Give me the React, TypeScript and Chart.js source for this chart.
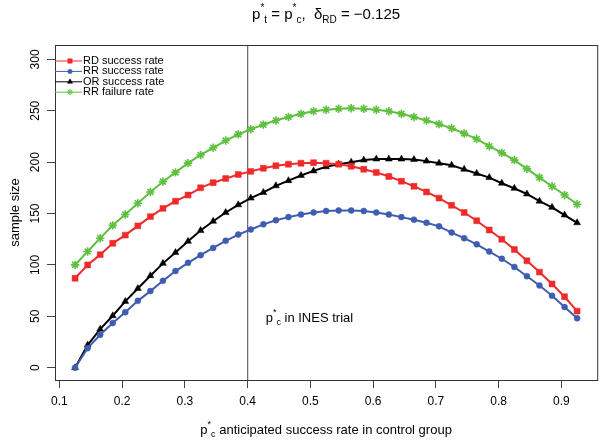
import React, { useEffect, useRef } from "react";
import { Chart, registerables } from "chart.js";
import { drawPoint } from "chart.js/helpers";

Chart.register(...registerables);

const xValues = [
  0.125, 0.145, 0.165, 0.185, 0.205, 0.225, 0.245, 0.265, 0.285, 0.305, 0.325,
  0.345, 0.365, 0.385, 0.405, 0.425, 0.445, 0.465, 0.485, 0.505, 0.525, 0.545,
  0.565, 0.585, 0.605, 0.625, 0.645, 0.665, 0.685, 0.705, 0.725, 0.745, 0.765,
  0.785, 0.805, 0.825, 0.845, 0.865, 0.885, 0.905, 0.925,
];
const rdSuccess = [
  87, 100, 110, 121, 129, 138, 147, 155, 162, 168, 175, 180, 184, 188, 191,
  194, 196.5, 198, 199, 199.5, 199, 198, 196, 193, 190, 186, 181.5, 176.5, 171, 165,
  158, 151, 143, 134, 125, 115, 104, 93, 81.5, 69, 55,
];
const rrSuccess = [
  0, 19, 32, 43.5, 54, 65, 74.5, 84.5, 94, 102, 109.5, 116.5, 123.5, 129.5, 134.5,
  139.5, 143.5, 146.5, 149, 151, 152.5, 153, 153, 152.5, 151, 149, 146.5, 144, 141, 137.5,
  131.5, 126, 120, 113, 106, 98, 89, 80, 70, 59, 48,
];
const orSuccess = [
  0, 22, 37.5, 50.5, 64.5, 77, 89.5, 101.5, 112, 123, 133.5, 142.5, 151, 158.5, 165,
  170.5, 177, 182, 187, 191.5, 195.5, 198, 200, 202, 203, 203, 203, 202.5, 201, 199,
  197, 193, 189, 185, 179.5, 174.5, 169, 162, 156, 148.5, 141,
];
const rrFailure = [
  100, 113, 126, 138.5, 149, 160, 171, 181, 190, 199, 207, 214, 221, 227, 232,
  236.5, 240.5, 244, 247, 249.5, 251, 252, 252.5, 252, 251, 249.5, 247, 244, 240.5, 237,
  233, 228, 222.5, 215.5, 209, 202, 193.5, 185, 176.5, 168, 159,
];
const xTicks = [0.1, 0.2, 0.3, 0.4, 0.5, 0.6, 0.7, 0.8, 0.9];
const yTicks = [0, 50, 100, 150, 200, 250, 300];
const seriesNames = ["RD success rate", "RR success rate", "OR success rate", "RR failure rate"];
const inesX = 0.4;

const FONT = "'Liberation Sans', Arial, Helvetica, sans-serif";
const RED = "#ee2a2a";
const BLUE = "#3f5db0";
const BLACK = "#000000";
const GREEN = "#5fc040";

const styles = [
  { color: RED, pointStyle: "rect", radius: 4.2, bw: 0.5 },
  { color: BLUE, pointStyle: "circle", radius: 3, bw: 0.5 },
  { color: BLACK, pointStyle: "triangle", radius: 4, bw: 0.5 },
  { color: GREEN, pointStyle: "star", radius: 4.2, bw: 1.6 },
];

type Seg = { t: string; size: number; dy: number };

function drawRich(ctx: CanvasRenderingContext2D, segs: Seg[], cx: number, y: number, align: "center" | "left") {
  ctx.save();
  ctx.textBaseline = "alphabetic";
  ctx.textAlign = "left";
  let total = 0;
  for (const s of segs) {
    ctx.font = `${s.size}px ${FONT}`;
    total += ctx.measureText(s.t).width;
  }
  let x = align === "center" ? cx - total / 2 : cx;
  for (const s of segs) {
    ctx.font = `${s.size}px ${FONT}`;
    ctx.fillText(s.t, x, y + s.dy);
    x += ctx.measureText(s.t).width;
  }
  ctx.restore();
}

const decorPlugin = {
  id: "decor",
  beforeDatasetsDraw(chart: any) {
    const { ctx, chartArea, scales } = chart;
    const px = scales.x.getPixelForValue(inesX);
    ctx.save();
    ctx.strokeStyle = "#666";
    ctx.lineWidth = 1.2;
    ctx.beginPath();
    ctx.moveTo(px, chartArea.top);
    ctx.lineTo(px, chartArea.bottom);
    ctx.stroke();
    ctx.restore();
  },
  afterDraw(chart: any) {
    const { ctx, chartArea, scales } = chart;
    ctx.save();
    ctx.fillStyle = "#000";
    // box
    ctx.strokeStyle = "#333";
    ctx.lineWidth = 1;
    ctx.strokeRect(chartArea.left + 0.5, chartArea.top + 0.5, chartArea.right - chartArea.left, chartArea.bottom - chartArea.top);

    // title
    drawRich(ctx, [
      { t: "p", size: 15, dy: 0 },
      { t: "*", size: 10, dy: -8 },
      { t: "t", size: 10, dy: 4 },
      { t: " = ", size: 15, dy: 0 },
      { t: "p", size: 15, dy: 0 },
      { t: "*", size: 10, dy: -8 },
      { t: "c", size: 10, dy: 4 },
      { t: ",  ", size: 15, dy: 0 },
      { t: "δ", size: 15, dy: 0 },
      { t: "RD", size: 10, dy: 4 },
      { t: " = −0.125", size: 15, dy: 0 },
    ], (chartArea.left + chartArea.right) / 2, 19, "center");

    // x axis title
    drawRich(ctx, [
      { t: "p", size: 13, dy: 0 },
      { t: "*", size: 9, dy: -7 },
      { t: "c", size: 9, dy: 3 },
      { t: " anticipated success rate in control group", size: 13, dy: 0 },
    ], (chartArea.left + chartArea.right) / 2, 434, "center");

    // y axis title
    ctx.save();
    ctx.translate(15, (chartArea.top + chartArea.bottom) / 2);
    ctx.rotate(-Math.PI / 2);
    ctx.font = `13px ${FONT}`;
    ctx.textAlign = "center";
    ctx.textBaseline = "middle";
    ctx.fillText("sample size", 0, 0);
    ctx.restore();

    // annotation
    const ax = scales.x.getPixelForValue(inesX) + 18;
    drawRich(ctx, [
      { t: "p", size: 13, dy: 0 },
      { t: "*", size: 9, dy: -7 },
      { t: "c", size: 9, dy: 3 },
      { t: " in INES trial", size: 13, dy: 0 },
    ], ax, 322, "left");

    // legend
    const lx0 = chartArea.left;
    const lx1 = chartArea.left + 27;
    const mx = chartArea.left + 15;
    const tx = chartArea.left + 28;
    for (let i = 0; i < seriesNames.length; i++) {
      const y = chartArea.top + 16 + i * 10.4;
      const st = styles[i];
      ctx.strokeStyle = st.color;
      ctx.fillStyle = st.color;
      ctx.lineWidth = 1;
      ctx.beginPath();
      ctx.moveTo(lx0, y);
      ctx.lineTo(lx1, y);
      ctx.stroke();
      ctx.lineWidth = st.pointStyle === "star" ? 1 : 0.5;
      drawPoint(ctx, { pointStyle: st.pointStyle as any, rotation: 0, radius: st.radius * 0.75, borderWidth: ctx.lineWidth }, mx, y);
      ctx.fillStyle = "#000";
      ctx.font = `11px ${FONT}`;
      ctx.textAlign = "left";
      ctx.textBaseline = "middle";
      ctx.fillText(seriesNames[i], tx, y);
    }
    ctx.restore();
  },
};

export default function App() {
  const ref = useRef<HTMLCanvasElement | null>(null);
  useEffect(() => {
    document.body.style.margin = "0";
    const canvas = ref.current!;
    Chart.defaults.font.family = FONT;
    Chart.defaults.color = "#000";
    const all = [rdSuccess, rrSuccess, orSuccess, rrFailure];
    const chart = new Chart(canvas, {
      type: "line",
      data: {
        datasets: all.map((arr, i) => ({
          label: seriesNames[i],
          data: xValues.map((x, j) => ({ x, y: arr[j] })),
          borderColor: styles[i].color,
          backgroundColor: styles[i].color,
          pointBackgroundColor: styles[i].color,
          pointBorderColor: styles[i].color,
          pointStyle: styles[i].pointStyle as any,
          pointRadius: styles[i].radius,
          pointBorderWidth: styles[i].bw,
          borderWidth: 2,
          tension: 0,
          fill: false,
        })),
      },
      options: {
        animation: false,
        responsive: false,
        events: [],
        layout: { padding: { top: 45, right: 5, left: 0, bottom: 0 } },
        plugins: { legend: { display: false }, tooltip: { enabled: false }, title: { display: false } },
        scales: {
          x: {
            type: "linear",
            min: 0.093,
            max: 0.957,
            afterBuildTicks: (s: any) => { s.ticks = xTicks.map((v) => ({ value: v })); },
            afterFit: (s: any) => { s.height = 60; },
            grid: { display: true, drawOnChartArea: false, drawTicks: true, tickLength: 8, color: "#444" },
            border: { display: true, color: "#333" },
            ticks: {
              font: { size: 12, family: FONT },
              color: "#000",
              padding: 6,
              maxRotation: 0,
              minRotation: 0,
              callback: (v: any) => Number(v).toFixed(1),
            },
          },
          y: {
            type: "linear",
            min: -12,
            max: 314,
            afterBuildTicks: (s: any) => { s.ticks = yTicks.map((v) => ({ value: v })); },
            afterFit: (s: any) => { s.width = 55; },
            grid: { display: true, drawOnChartArea: false, drawTicks: true, tickLength: 8, color: "#444" },
            border: { display: true, color: "#333" },
            ticks: {
              font: { size: 12, family: FONT },
              color: "#000",
              padding: 1,
              minRotation: 90,
              maxRotation: 90,
              crossAlign: "center",
              callback: (v: any) => String(v),
            },
          },
        },
      },
      plugins: [decorPlugin],
    });
    return () => chart.destroy();
  }, []);
  return <canvas ref={ref} width={603} height={440} style={{ display: "block", width: 603, height: 440 }} />;
}
